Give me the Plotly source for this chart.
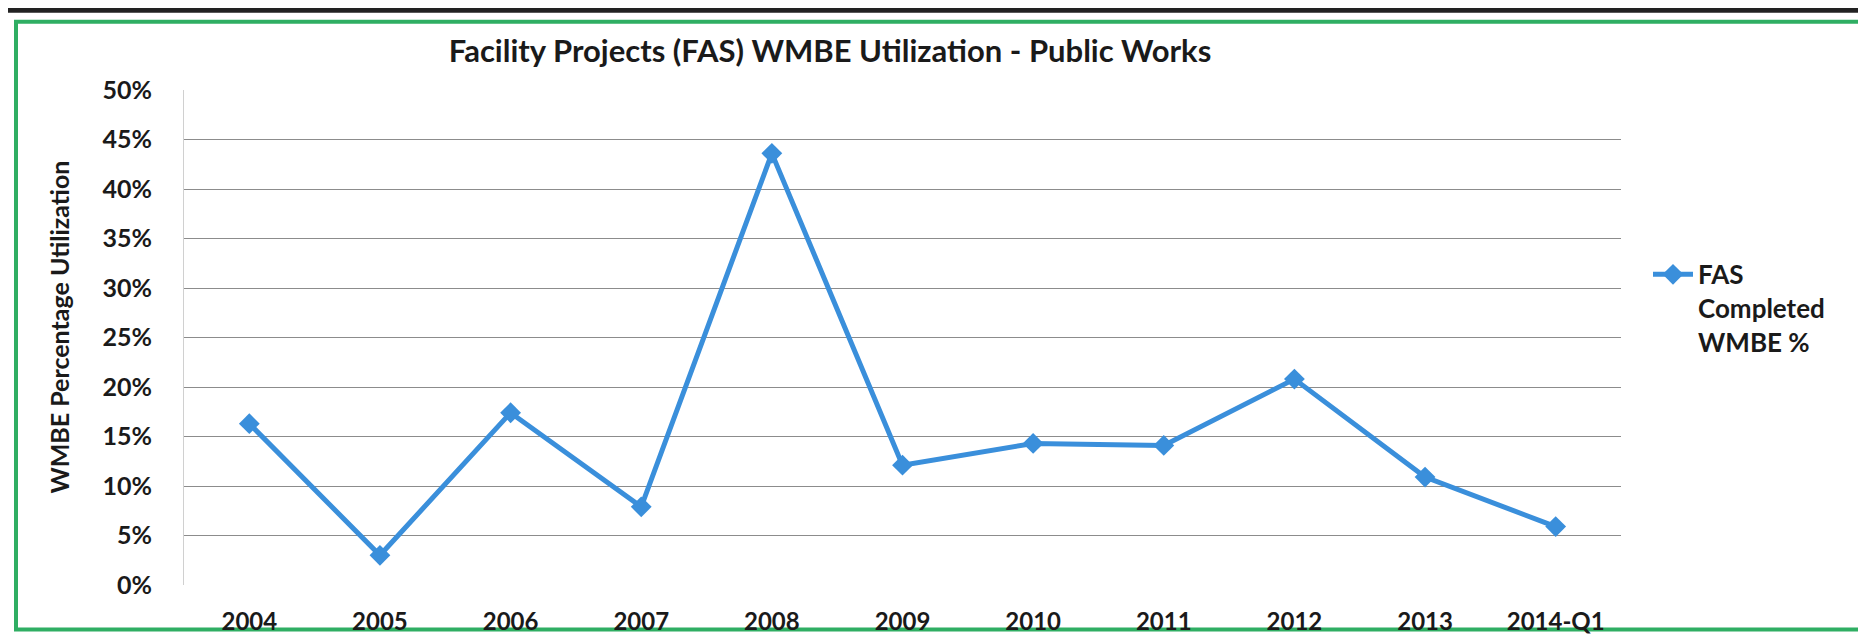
import plotly.graph_objects as go

categories = ["2004", "2005", "2006", "2007", "2008", "2009", "2010", "2011", "2012", "2013", "2014-Q1"]
wmbe_pct = [16.3, 3.0, 17.4, 7.9, 43.6, 12.1, 14.3, 14.1, 20.8, 10.9, 5.9]
y_ticks = [0, 5, 10, 15, 20, 25, 30, 35, 40, 45, 50]
y_tick_labels = [f"{v}%" for v in y_ticks]

FONT = "Lato, 'Open Sans', sans-serif"
BLUE = "#3a8fdb"
W, H = 1866, 639
L, R, T, B = 176, 253, 82, 57
PW, PH = W - L - R, H - T - B

fig = go.Figure()
fig.add_trace(go.Scatter(
    x=categories, y=wmbe_pct, mode="lines+markers",
    name="<b>FAS<br>Completed<br>WMBE %</b>",
    line=dict(color=BLUE, width=5),
    marker=dict(symbol="diamond", size=16, color=BLUE),
))

fig.update_layout(
    width=W, height=H,
    margin=dict(l=L, r=R, t=T, b=B),
    paper_bgcolor="white", plot_bgcolor="white",
    font=dict(family=FONT, color="#1a1a1a"),
    title=dict(text="<b>Facility Projects (FAS) WMBE Utilization - Public Works</b>",
               x=(822 - L) / PW, xref="paper", xanchor="center",
               y=1 - 43 / H, yref="container", yanchor="middle",
               font=dict(size=31, family=FONT, color="#1a1a1a")),
    showlegend=True,
    legend=dict(x=(1640 - L) / PW, xanchor="left", y=0.675, yanchor="top",
                valign="top", font=dict(size=26, family=FONT, color="#1a1a1a"),
                bgcolor="rgba(0,0,0,0)", itemwidth=40, tracegroupgap=0),
    xaxis=dict(type="category", range=[-0.5, len(categories) - 0.5],
               showgrid=False, showline=False, zeroline=False,
               ticks="", ticklabelstandoff=20,
               tickfont=dict(size=24, family=FONT, color="#1a1a1a"),
               tickprefix="<b>", ticksuffix="</b>"),
    yaxis=dict(range=[0, 50], tickvals=y_ticks,
               ticktext=[f"<b>{t}</b>" for t in y_tick_labels],
               showgrid=True, gridcolor="#8c8c8c", gridwidth=1.2,
               zeroline=False, showline=True, linecolor="#d0d0d0", linewidth=1,
               ticks="", ticklabelstandoff=26,
               tickfont=dict(size=25, family=FONT, color="#1a1a1a")),
    annotations=[dict(text="<b>WMBE Percentage Utilization</b>", textangle=-90,
                      x=(51 - L) / PW, xref="paper", xanchor="center",
                      y=(H - B - 322) / PH, yref="paper", yanchor="middle", showarrow=False,
                      font=dict(size=25, family=FONT, color="#1a1a1a"))],
    shapes=[
        dict(type="rect", xref="paper", yref="paper",
             x0=(8 - L) / PW, x1=(1858 - L) / PW,
             y0=(H - B - 627) / PH, y1=(H - B - 13) / PH,
             line=dict(color="#2fae63", width=4), fillcolor="rgba(0,0,0,0)", layer="below"),
        dict(type="rect", xref="paper", yref="paper",
             x0=-L / PW, x1=(W - L) / PW,
             y0=(H - B - 4) / PH, y1=(H - B + 2) / PH,
             line=dict(width=0), fillcolor="#222222", layer="below"),
    ],
)

fig.write_html("out.html")
